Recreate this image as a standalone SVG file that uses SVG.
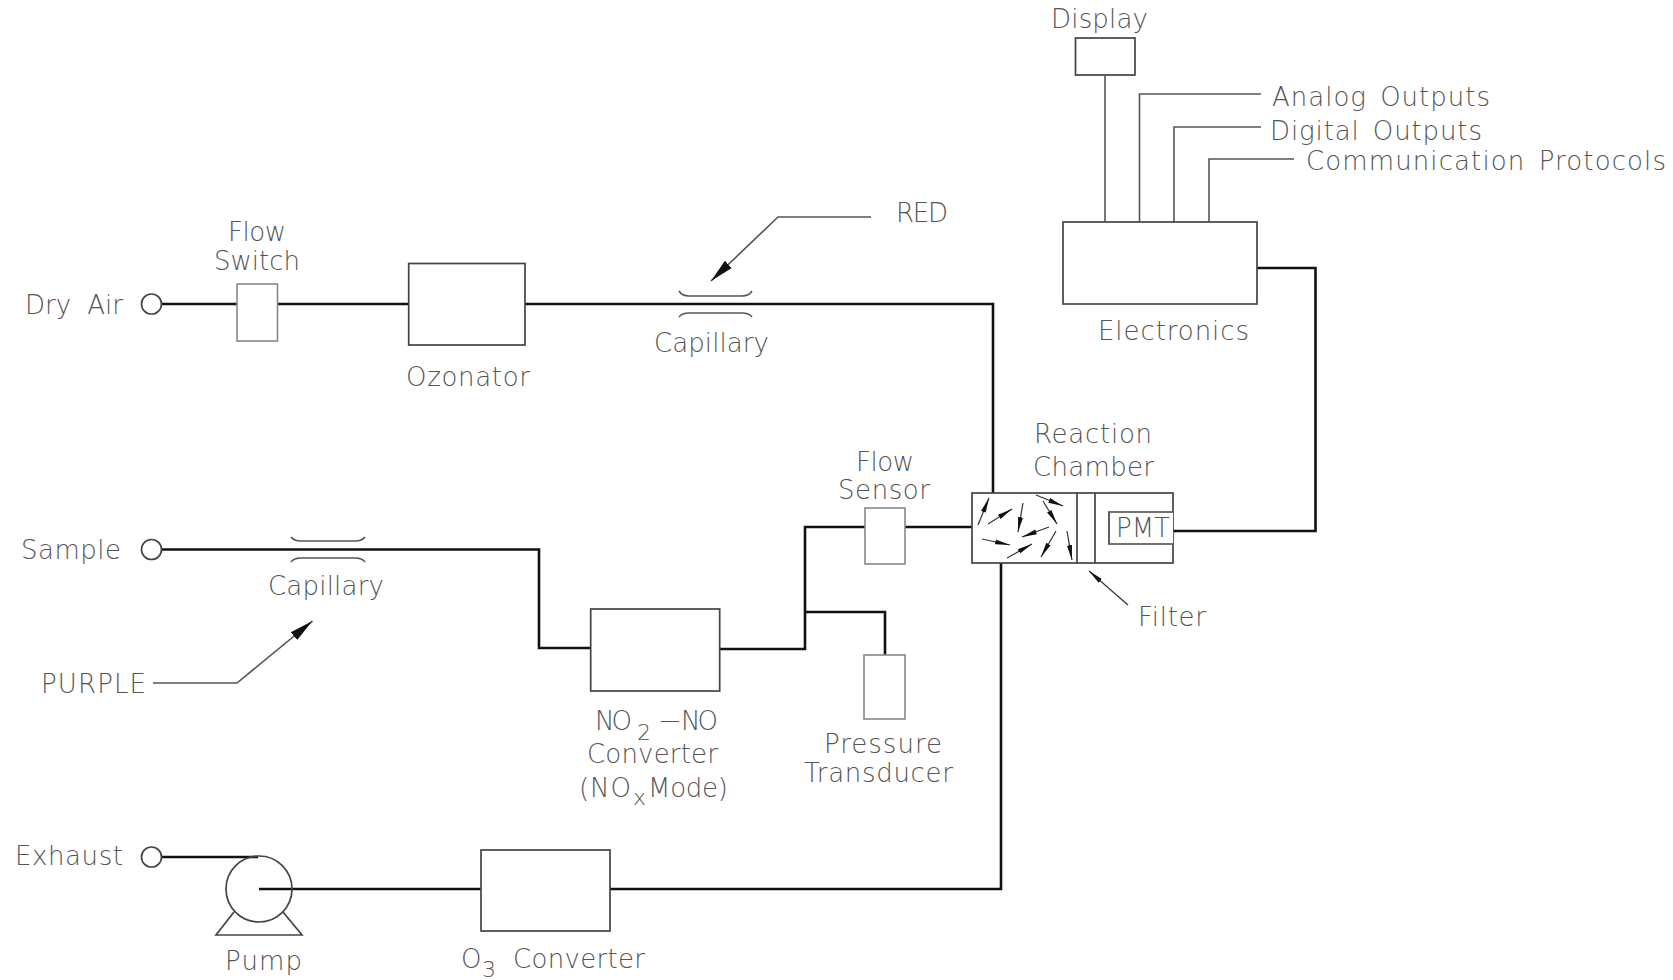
<svg xmlns="http://www.w3.org/2000/svg" width="1673" height="980" viewBox="0 0 1673 980">
<style>
text{font-family:"DejaVu Sans","Liberation Sans",sans-serif;font-weight:200;font-size:26px;fill:#555}
.s{font-size:22px}
.w{word-spacing:4px}
.t{fill:none;stroke:#111;stroke-width:2.6}
.b{fill:#fff;stroke:#444;stroke-width:1.7}
.g{fill:#fff;stroke:#888;stroke-width:1.6}
.l{fill:none;stroke:#555;stroke-width:1.6}
.m{fill:none;stroke:#333;stroke-width:1.2}
</style>
<defs>
<marker id="a" markerUnits="userSpaceOnUse" markerWidth="16" markerHeight="8" refX="15" refY="4" orient="auto"><path d="M0 1.500L15 4L0 6.500z" fill="#111"/></marker>
<marker id="b" markerUnits="userSpaceOnUse" markerWidth="26" markerHeight="12" refX="24" refY="6" orient="auto"><path d="M0 1L24 6L0 11z" fill="#111"/></marker>
</defs>
<rect width="1673" height="980" fill="#fff"/>
<g id="connectors">
<path class="t" d="M162 304H409M525 304H993V493"/>
<path class="t" d="M162 549.500H539V648H591M720 649H805V527H972"/>
<path class="t" d="M805 612H885V655"/>
<path class="t" d="M162 857H258M259 889H1001V563"/>
<path class="t" d="M1173 531H1315.500V268H1257"/>
<path class="l" d="M1105 76V222M1139.500 222V94H1261M1174 222V127H1261M1209 222V159H1294"/>
<path class="l" d="M871 217H778L711 281" marker-end="url(#b)"/>
<path class="l" d="M153 683H237L312.500 621" marker-end="url(#b)"/>
<path class="m" d="M1128 605L1089 571" marker-end="url(#a)"/>
</g>
<g id="dry-air"><circle class="b" cx="151.500" cy="304" r="10"/><text style="word-spacing:8px" x="25" y="314" textLength="98">Dry Air</text></g>
<g id="sample"><circle class="b" cx="151.500" cy="549.500" r="10"/><text x="21" y="559" textLength="100">Sample</text></g>
<g id="exhaust"><circle class="b" cx="151.500" cy="857" r="10"/><text x="15" y="865" textLength="108">Exhaust</text></g>
<g id="flow-switch"><rect class="g" x="237" y="284" width="40.500" height="57"/><text x="228" y="241" textLength="58">Flow</text><text x="214" y="270" textLength="86">Switch</text></g>
<g id="ozonator"><rect class="b" x="408.700" y="263.500" width="116.300" height="81.500"/><text x="406" y="386" textLength="124">Ozonator</text></g>
<g id="capillary-1"><path class="l" d="M679 291Q682 296 689 296H742Q749 296 752 291M679 317Q682 313 689 313H742Q749 313 752 317"/><text x="654" y="352" textLength="115">Capillary</text></g>
<g id="red-label"><text x="896" y="222" textLength="52">RED</text></g>
<g id="capillary-2"><path class="l" d="M291 537Q294 541 301 541H355Q362 541 365 537M291 562Q294 558 301 558H355Q362 558 365 562"/><text x="268" y="595" textLength="116">Capillary</text></g>
<g id="purple-label"><text x="41" y="693" textLength="105">PURPLE</text></g>
<g id="no2-converter"><rect class="b" x="590.700" y="609" width="129" height="82"/><text x="595" y="730" textLength="37">NO</text><text class="s" x="637" y="740" textLength="14">2</text><text style="font-size:20px" x="660" y="727" textLength="19">—</text><text x="681" y="730" textLength="37">NO</text><text x="587" y="763" textLength="131">Converter</text><text x="579" y="797" textLength="52">(NO</text><text class="s" x="633" y="805" textLength="13">x</text><text x="648" y="797" textLength="80">Mode)</text></g>
<g id="flow-sensor"><rect class="g" x="865" y="508" width="40" height="56"/><text x="856" y="471" textLength="58">Flow</text><text x="838" y="499" textLength="92">Sensor</text></g>
<g id="pressure-transducer"><rect class="g" x="864" y="655" width="41" height="64"/><text x="824" y="753" textLength="118">Pressure</text><text x="804" y="782" textLength="149">Transducer</text></g>
<g id="reaction-chamber"><rect class="b" x="972" y="493" width="201" height="70"/><path class="b" d="M1077 493V563M1095 493V563M1173 512H1109V544H1173"/>
<path class="m" marker-end="url(#a)" d="M978 525L989 498"/><path class="m" marker-end="url(#a)" d="M988 524L1012 509"/><path class="m" marker-end="url(#a)" d="M1023 503L1018 532"/><path class="m" marker-end="url(#a)" d="M1036 495L1063 506"/><path class="m" marker-end="url(#a)" d="M1043 501L1057 524"/><path class="m" marker-end="url(#a)" d="M1049 527L1022 537"/><path class="m" marker-end="url(#a)" d="M982 539L1010 545"/><path class="m" marker-end="url(#a)" d="M1007 558L1032 544"/><path class="m" marker-end="url(#a)" d="M1056 531L1041 557"/><path class="m" marker-end="url(#a)" d="M1067 531L1072 560"/>
<text x="1034" y="443" textLength="118">Reaction</text><text x="1033" y="476" textLength="121">Chamber</text><text x="1116" y="537" textLength="54">PMT</text></g>
<g id="filter-label"><text x="1138" y="626" textLength="68">Filter</text></g>
<g id="electronics"><rect class="b" x="1063" y="222" width="194" height="82"/><text x="1098" y="340" textLength="151">Electronics</text></g>
<g id="display"><rect class="b" x="1075.500" y="38" width="59.500" height="37"/><text x="1051" y="28" textLength="97">Display</text></g>
<g id="outputs"><text class="w" x="1272" y="106" textLength="218">Analog Outputs</text><text class="w" x="1270" y="140" textLength="212">Digital Outputs</text><text class="w" x="1306" y="170" textLength="360">Communication Protocols</text></g>
<g id="pump"><path class="b" d="M234 912L216 935H302L283 912"/><circle class="b" cx="259" cy="889" r="33" style="fill:none"/><text x="225" y="970" textLength="77">Pump</text></g>
<g id="o3-converter"><rect class="b" x="481" y="850" width="129" height="81"/><text x="461" y="968" textLength="30">O</text><text class="s" x="482" y="977" textLength="14">3</text><text x="513" y="968" textLength="132">Converter</text></g>
</svg>
